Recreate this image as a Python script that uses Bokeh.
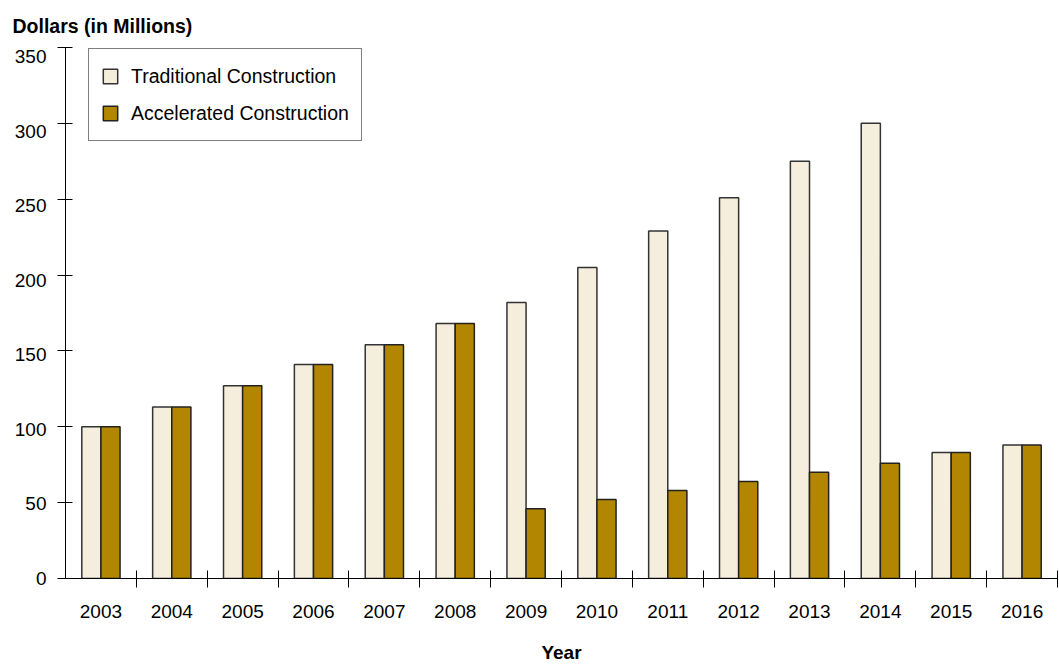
from bokeh.plotting import figure
from bokeh.models import FixedTicker, Legend, LegendItem, ColumnDataSource, LinearAxis, Range1d
from bokeh.transform import dodge
from bokeh.embed import file_html
from bokeh.resources import INLINE

years = [2003, 2004, 2005, 2006, 2007, 2008, 2009, 2010, 2011, 2012, 2013, 2014, 2015, 2016]
traditional = [100, 113, 127, 141, 154, 168, 182, 205, 229, 251, 275, 300, 83, 88]
accelerated = [100, 113, 127, 141, 154, 168, 46, 52, 58, 64, 70, 76, 83, 88]
y_ticks = [0, 50, 100, 150, 200, 250, 300, 350]

FONT = "Liberation Sans"
TRAD_COLOR = "#F5EEDC"
ACC_COLOR = "#B38600"

src = ColumnDataSource(dict(year=years, trad=traditional, acc=accelerated))

p = figure(width=1059, height=665, output_backend="svg", toolbar_location=None,
           x_range=(years[0] - 0.5, years[-1] + 0.5), y_range=(0, 350),
           min_border_left=65, min_border_right=2, min_border_top=47, min_border_bottom=86)
p.outline_line_color = None
p.xgrid.grid_line_color = None
p.ygrid.grid_line_color = None

r1 = p.vbar(x=dodge("year", -0.135, range=p.x_range), top="trad", width=0.27, source=src,
            fill_color=TRAD_COLOR, line_color="#333333", line_width=1.5)
r2 = p.vbar(x=dodge("year", 0.135, range=p.x_range), top="acc", width=0.27, source=src,
            fill_color=ACC_COLOR, line_color="#222222", line_width=1.5)

# Y axis: line + ticks only
p.yaxis.ticker = FixedTicker(ticks=y_ticks)
p.yaxis.major_tick_in = 7
p.yaxis.major_tick_out = 8
p.yaxis.minor_tick_line_color = None
p.yaxis.major_label_standoff = 0
p.yaxis.major_label_text_font_size = "0px"
p.yaxis.major_label_text_alpha = 0
p.yaxis.axis_line_color = "black"
p.yaxis.major_tick_line_color = "black"

# Y tick labels sit slightly below their ticks in the original
p.extra_y_ranges = {"labels": Range1d(0, 356)}
lab_axis = LinearAxis(y_range_name="labels", ticker=FixedTicker(ticks=y_ticks))
lab_axis.axis_line_color = None
lab_axis.major_tick_line_color = None
lab_axis.minor_tick_line_color = None
lab_axis.major_tick_in = 0
lab_axis.major_tick_out = 0
lab_axis.major_label_standoff = 11
lab_axis.major_label_text_font = FONT
lab_axis.major_label_text_font_size = "19px"
lab_axis.major_label_text_color = "black"
p.add_layout(lab_axis, "left")

# X axis
p.xaxis.ticker = FixedTicker(ticks=years, minor_ticks=[y + 0.5 for y in years])
p.xaxis.major_tick_in = 0
p.xaxis.major_tick_out = 0
p.xaxis.minor_tick_in = 8
p.xaxis.minor_tick_out = 9
p.xaxis.minor_tick_line_color = "black"
p.xaxis.major_label_standoff = 17
p.xaxis.major_label_text_font = FONT
p.xaxis.major_label_text_font_size = "19px"
p.xaxis.major_label_text_color = "black"
p.xaxis.axis_line_color = "black"
p.xaxis.axis_label = "Year"
p.xaxis.axis_label_text_font = FONT
p.xaxis.axis_label_text_font_size = "19px"
p.xaxis.axis_label_text_font_style = "bold"
p.xaxis.axis_label_text_color = "black"
p.xaxis.axis_label_standoff = 21

# Title
p.title.text = "Dollars (in Millions)"
p.title.text_font = FONT
p.title.text_font_size = "19.5px"
p.title.text_font_style = "bold"
p.title.text_color = "black"
p.title.align = "left"
p.title.offset = -53
p.title.standoff = 21

legend = Legend(items=[LegendItem(label="Traditional Construction", renderers=[r1]),
                       LegendItem(label="Accelerated Construction", renderers=[r2])],
                location=(23, 437))
legend.border_line_color = "black"
legend.border_line_width = 1
legend.label_text_font = FONT
legend.label_text_font_size = "19.5px"
legend.label_text_color = "black"
legend.glyph_width = 18
legend.glyph_height = 18
legend.label_height = 30
legend.spacing = 7
legend.padding = 12
legend.label_standoff = 12
legend.margin = 0
p.add_layout(legend, "center")

open("out.html", "w").write(file_html(p, INLINE))
